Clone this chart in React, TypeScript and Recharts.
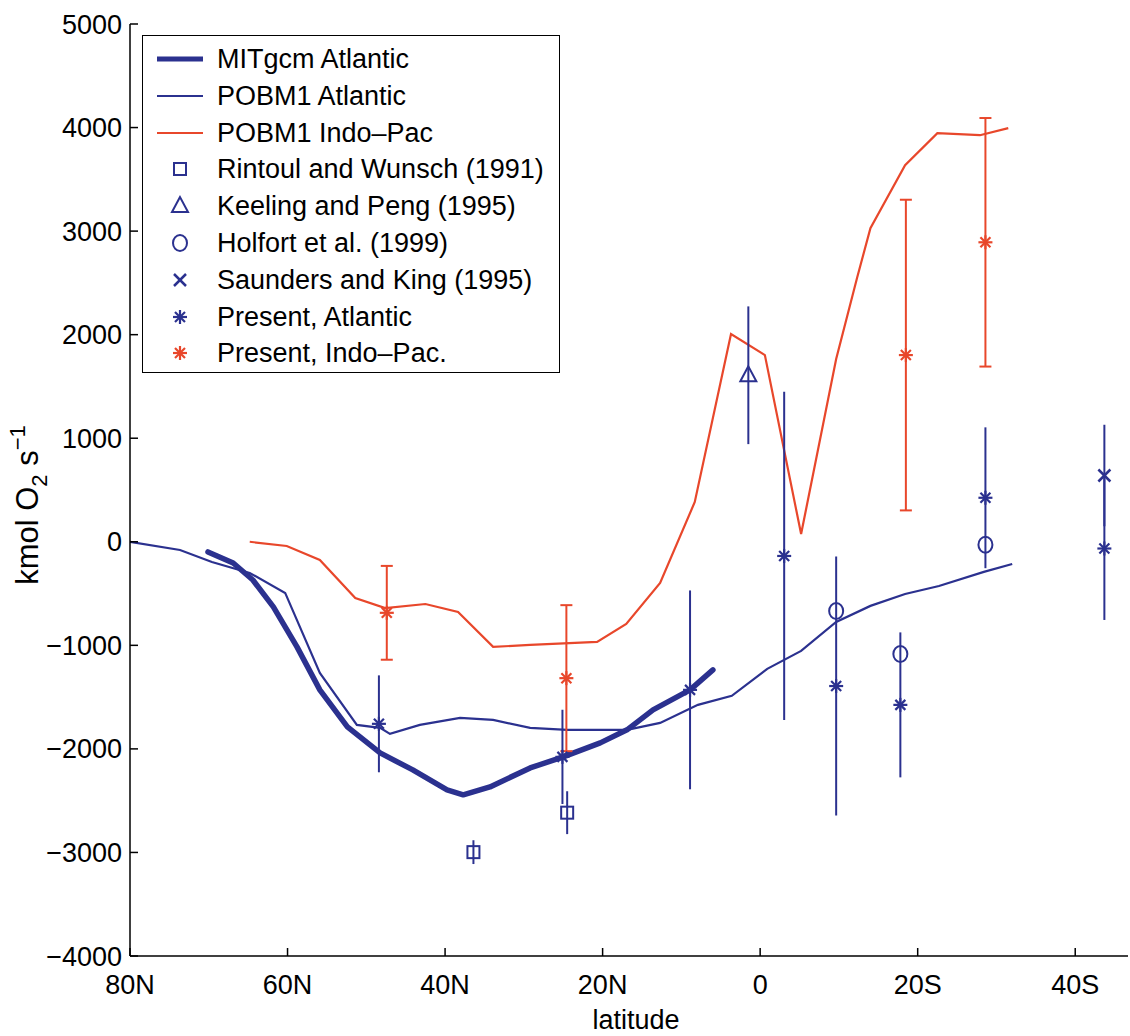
import React from 'react';
import {ComposedChart, Line, Scatter, XAxis, YAxis, ErrorBar, Legend} from 'recharts';

const BLUE = '#2b318f';
const RED = '#e8472b';
const FONT = '"Liberation Sans", Arial, Helvetica, sans-serif';

// latitude in degrees, north negative / south positive
const latTicks = [-80, -60, -40, -20, 0, 20, 40];
const latLabels = ['80N', '60N', '40N', '20N', '0', '20S', '40S'];
const valTicks = [-4000, -3000, -2000, -1000, 0, 1000, 2000, 3000, 4000, 5000];

const mitLat = [-70.1, -66.9, -64.4, -61.8, -58.8, -55.9, -52.4, -48.25, -44.1, -39.75, -37.7, -34.3, -29.2, -25.0, -20.3, -16.9, -13.6, -8.9, -6.0];
const mitVal = [-98, -205, -369, -629, -1015, -1430, -1787, -2039, -2203, -2396, -2444, -2367, -2184, -2077, -1942, -1816, -1623, -1430, -1237];

const pobAtlLat = [-80, -73.65, -69.6, -64.8, -60.3, -55.9, -51.2, -48.25, -47.0, -43.2, -38.1, -33.9, -29.2, -24.5, -16.9, -12.7, -7.9, -3.6, 0.9, 5.2, 9.65, 14.0, 18.4, 22.7, 28.4, 32.0];
const pobAtlVal = [0, -79, -195, -301, -494, -1266, -1768, -1797, -1855, -1768, -1700, -1720, -1797, -1816, -1816, -1749, -1575, -1488, -1227, -1054, -774, -619, -504, -427, -291, -214];

const pobIndLat = [-64.8, -60.1, -55.9, -51.4, -47.6, -42.5, -38.35, -33.9, -29.2, -20.7, -17.0, -12.7, -8.3, -3.7, 0.6, 5.2, 9.65, 12.3, 14.0, 18.4, 22.5, 27.9, 31.5];
const pobIndVal = [0, -41, -176, -543, -640, -601, -678, -1015, -996, -967, -793, -398, 384, 2006, 1803, 75, 1765, 2547, 3029, 3637, 3946, 3926, 3994];

const rintLat = [-36.4, -24.5];
const rintVal = [-2997, -2616];
const rintErr = [115, 207];

const keelLat = [-1.5];
const keelVal = [1608];
const keelErr = [665];

const holfLat = [9.65, 17.8, 28.6];
const holfVal = [-668, -1084, -29];

const saunLat = [43.7];
const saunVal = [640];
const saunErr = [490];

const presAtlLat = [-48.4, -25.1, -8.9, 3.05, 9.65, 17.8, 28.6, 43.7];
const presAtlVal = [-1758, -2077, -1430, -137, -1393, -1575, 425, -65];
const presAtlErr = [468, 455, 960, 1585, 1250, 700, 680, 690];

const presIndLat = [-47.4, -24.6, 18.5, 28.6];
const presIndVal = [-686, -1317, 1803, 2892];
const presIndErr = [453, 705, 1500, 1200];

const zip = (lat: number[], val: number[], err?: number[]) =>
  lat.map((l, i) => ({lat: l, val: val[i], err: err ? err[i] : 0}));

type MarkerKind = 'square' | 'triangle' | 'circle' | 'x' | 'star';

function Marker({cx, cy, kind, color}: {cx: number; cy: number; kind: MarkerKind; color: string}) {
  const sw = 2;
  if (kind === 'square') {
    return <rect x={cx - 6} y={cy - 6} width={12} height={12} fill="none" stroke={color} strokeWidth={sw} />;
  }
  if (kind === 'triangle') {
    return <polygon points={`${cx},${cy - 9} ${cx - 8},${cy + 6} ${cx + 8},${cy + 6}`} fill="none" stroke={color} strokeWidth={sw} />;
  }
  if (kind === 'circle') {
    return <ellipse cx={cx} cy={cy} rx={7} ry={8} fill="none" stroke={color} strokeWidth={sw} />;
  }
  if (kind === 'x') {
    const r = 6;
    return (
      <g stroke={color} strokeWidth={2.5}>
        <line x1={cx - r} y1={cy - r} x2={cx + r} y2={cy + r} />
        <line x1={cx - r} y1={cy + r} x2={cx + r} y2={cy - r} />
      </g>
    );
  }
  const r = 7;
  const d = 5;
  return (
    <g stroke={color} strokeWidth={2.2}>
      <line x1={cx} y1={cy - r} x2={cx} y2={cy + r} />
      <line x1={cx - r} y1={cy} x2={cx + r} y2={cy} />
      <line x1={cx - d} y1={cy - d} x2={cx + d} y2={cy + d} />
      <line x1={cx - d} y1={cy + d} x2={cx + d} y2={cy - d} />
    </g>
  );
}

const shapeOf = (kind: MarkerKind, color: string) => (p: any) =>
  <Marker cx={p.cx} cy={p.cy} kind={kind} color={color} />;

const legendRows: {label: string; line?: number; kind?: MarkerKind; color: string}[] = [
  {label: 'MITgcm Atlantic', line: 5, color: BLUE},
  {label: 'POBM1 Atlantic', line: 2, color: BLUE},
  {label: 'POBM1 Indo-Pac', line: 2, color: RED},
  {label: 'Rintoul and Wunsch (1991)', kind: 'square', color: BLUE},
  {label: 'Keeling and Peng (1995)', kind: 'triangle', color: BLUE},
  {label: 'Holfort et al. (1999)', kind: 'circle', color: BLUE},
  {label: 'Saunders and King (1995)', kind: 'x', color: BLUE},
  {label: 'Present, Atlantic', kind: 'star', color: BLUE},
  {label: 'Present, Indo-Pac.', kind: 'star', color: RED}
];

function LegendBox() {
  return (
    <div
      style={{
        position: 'absolute',
        left: 142,
        top: 35,
        width: 418,
        height: 338,
        border: '1.5px solid #000',
        background: '#fff',
        boxSizing: 'border-box',
        fontFamily: FONT
      }}
    >
      {legendRows.map((r, i) => (
        <div
          key={r.label}
          style={{position: 'absolute', left: 0, top: 23 + i * 36.8 - 18, height: 36, display: 'flex', alignItems: 'center'}}
        >
          <svg width={74} height={36} style={{display: 'block'}}>
            {r.line ? (
              <line x1={14} y1={18} x2={60} y2={18} stroke={r.color} strokeWidth={r.line} />
            ) : (
              <Marker cx={37} cy={18} kind={r.kind as MarkerKind} color={r.color} />
            )}
          </svg>
          <span style={{fontSize: 27, color: '#000', whiteSpace: 'nowrap', lineHeight: '36px'}}>{r.label.replace('-', '\u2013')}</span>
        </div>
      ))}
    </div>
  );
}

const YLabel = () => (
  <text
    transform="translate(38, 505) rotate(-90)"
    textAnchor="middle"
    fontFamily={FONT}
    fontSize={31}
    fill="#000"
  >
    kmol O<tspan dy={9} fontSize={22}>2</tspan>
    <tspan dy={-9}> s</tspan>
    <tspan dy={-13} fontSize={22}>{'\u22121'}</tspan>
  </text>
);

const XLabel = () => (
  <text x={636} y={1029} textAnchor="middle" fontFamily={FONT} fontSize={27} fill="#000">
    latitude
  </text>
);

export default function App() {
  const tickStyle = {fill: '#000', fontSize: 27, fontFamily: FONT};
  const fmtLat = (v: number) => latLabels[latTicks.indexOf(v)] ?? '';
  const fmtVal = (v: number) => (v < 0 ? '\u2212' + Math.abs(v) : String(v));
  return (
    <div style={{position: 'absolute', left: 0, top: 0, width: 1130, height: 1036, background: '#fff'}}>
      <ComposedChart width={1130} height={1036} margin={{top: 24, right: 2, left: 0, bottom: 0}}>
        <XAxis
          xAxisId="b"
          type="number"
          dataKey="lat"
          domain={[-80, 46.7]}
          allowDataOverflow
          ticks={latTicks}
          tickFormatter={fmtLat}
          tick={tickStyle}
          tickSize={-8}
          tickMargin={27}
          height={80}
          stroke="#000"
          strokeWidth={1.5}
          label={<XLabel />}
        />
        <XAxis
          xAxisId="t"
          orientation="top"
          type="number"
          domain={[-80, 46.7]}
          allowDataOverflow
          ticks={latTicks}
          tickFormatter={() => ''}
          tickSize={-8}
          height={0}
          stroke="#000"
          strokeWidth={1.5}
        />
        <YAxis
          yAxisId="l"
          type="number"
          domain={[-4000, 5000]}
          allowDataOverflow
          ticks={valTicks}
          tickFormatter={fmtVal}
          tick={tickStyle}
          tickSize={-8}
          tickMargin={16}
          width={130}
          stroke="#000"
          strokeWidth={1.5}
          label={<YLabel />}
        />
        <YAxis
          yAxisId="r"
          orientation="right"
          type="number"
          domain={[-4000, 5000]}
          allowDataOverflow
          ticks={valTicks}
          tickFormatter={() => ''}
          tickSize={-8}
          width={0}
          stroke="#000"
          strokeWidth={1.5}
        />

        <Line xAxisId="b" yAxisId="l" data={zip(mitLat, mitVal)} dataKey="val" type="linear" stroke={BLUE} strokeWidth={5.5} dot={false} isAnimationActive={false} strokeLinejoin="round" strokeLinecap="round" />
        <Line xAxisId="b" yAxisId="l" data={zip(pobAtlLat, pobAtlVal)} dataKey="val" type="linear" stroke={BLUE} strokeWidth={2.2} dot={false} isAnimationActive={false} />
        <Line xAxisId="b" yAxisId="l" data={zip(pobIndLat, pobIndVal)} dataKey="val" type="linear" stroke={RED} strokeWidth={2.2} dot={false} isAnimationActive={false} />

        <Scatter xAxisId="b" yAxisId="l" data={zip(presIndLat, presIndVal, presIndErr)} dataKey="val" shape={shapeOf('star', RED)} isAnimationActive={false}>
          <ErrorBar dataKey="err" direction="y" width={6} stroke={RED} strokeWidth={2} />
        </Scatter>
        <Scatter xAxisId="b" yAxisId="l" data={zip(presAtlLat, presAtlVal, presAtlErr)} dataKey="val" shape={shapeOf('star', BLUE)} isAnimationActive={false}>
          <ErrorBar dataKey="err" direction="y" width={0} stroke={BLUE} strokeWidth={2} />
        </Scatter>
        <Scatter xAxisId="b" yAxisId="l" data={zip(rintLat, rintVal, rintErr)} dataKey="val" shape={shapeOf('square', BLUE)} isAnimationActive={false}>
          <ErrorBar dataKey="err" direction="y" width={0} stroke={BLUE} strokeWidth={2} />
        </Scatter>
        <Scatter xAxisId="b" yAxisId="l" data={zip(keelLat, keelVal, keelErr)} dataKey="val" shape={shapeOf('triangle', BLUE)} isAnimationActive={false}>
          <ErrorBar dataKey="err" direction="y" width={0} stroke={BLUE} strokeWidth={2} />
        </Scatter>
        <Scatter xAxisId="b" yAxisId="l" data={zip(holfLat, holfVal)} dataKey="val" shape={shapeOf('circle', BLUE)} isAnimationActive={false} />
        <Scatter xAxisId="b" yAxisId="l" data={zip(saunLat, saunVal, saunErr)} dataKey="val" shape={shapeOf('x', BLUE)} isAnimationActive={false}>
          <ErrorBar dataKey="err" direction="y" width={0} stroke={BLUE} strokeWidth={2} />
        </Scatter>

        <Legend
          layout="horizontal"
          verticalAlign="middle"
          align="center"
          wrapperStyle={{left: 0, top: 0, width: 0, height: 0}}
          content={() => <LegendBox />}
        />
      </ComposedChart>
    </div>
  );
}
